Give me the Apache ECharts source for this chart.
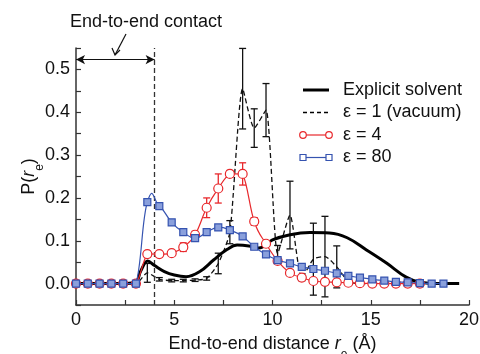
<!DOCTYPE html>
<html>
<head>
<meta charset="utf-8">
<script src="https://cdn.jsdelivr.net/npm/echarts@6/dist/echarts.min.js"></script>
<style>
html, body { margin: 0; padding: 0; background: #fff; }
#chart { width: 480px; height: 354px; }
</style>
</head>
<body>
<div id="chart"></div>
<script>
// sampled distances (shared by the three sampled curves)
const rGrid = [0, 0.6, 1.2, 1.8, 2.4, 3.05, 3.63, 4.24, 4.87, 5.46, 6.06, 6.65, 7.24, 7.83, 8.48, 9.07, 9.67, 10.26, 10.89, 11.49, 12.08, 12.67, 13.27, 13.86, 14.45, 15.08, 15.69, 16.28, 16.88, 17.5, 18.1, 18.7];

const eps80 = [0, 0, 0, 0, 0, 0, 0.19, 0.181, 0.143, 0.12, 0.106, 0.12, 0.131, 0.125, 0.11, 0.086, 0.068, 0.055, 0.047, 0.039, 0.034, 0.03, 0.024, 0.018, 0.014, 0.01, 0.007, 0.004, 0.003, 0.001, 0, 0];

const eps4 = [0, 0, 0, 0, 0, 0, 0.069, 0.069, 0.071, 0.085, 0.114, 0.177, 0.222, 0.256, 0.256, 0.145, 0.093, 0.053, 0.025, 0.014, 0.006, 0.004, 0.003, 0.002, 0.001, 0, 0, 0, 0, 0];
const eps4Err = [0, 0, 0, 0, 0, 0, 0.006, 0.004, 0.004, 0.01, 0.008, 0.023, 0.034, 0.008, 0.026, 0.009, 0.006, 0.004, 0.003, 0.002, 0, 0, 0, 0, 0, 0, 0, 0, 0, 0];

const vacuum = [0, 0, 0, 0, 0, 0, 0.025, 0.01, 0.007, 0.007, 0.008, 0.012, 0.047, 0.12, 0.455, 0.363, 0.405, 0.07, 0.16, 0.012, 0.057, 0.063, 0.039, 0.005, 0, 0];
const vacuumErr = [0, 0, 0, 0, 0, 0, 0.022, 0.004, 0.003, 0.003, 0.003, 0.004, 0.024, 0.027, 0.094, 0.045, 0.062, 0.019, 0.079, 0.005, 0.084, 0.094, 0.049, 0, 0, 0];

// explicit solvent
const explicitR = [0, 1, 2, 3, 3.3, 3.65, 4.0, 4.5, 5.0, 5.6, 6.3, 7.0, 7.7, 8.2, 8.8, 9.3, 10.0, 10.9, 11.9, 12.9, 13.8, 14.8, 15.8, 16.8, 17.5, 18.5, 19.5];
const explicitP = [0, 0, 0, 0.002, 0.03, 0.053, 0.042, 0.028, 0.02, 0.016, 0.028, 0.055, 0.08, 0.09, 0.088, 0.083, 0.102, 0.114, 0.119, 0.118, 0.107, 0.078, 0.048, 0.015, 0.003, 0, 0];

const contactR = 4;
const legendNames = ['Explicit solvent', 'ε = 1 (vacuum)', 'ε = 4', 'ε = 80'];

const RED = '#e8282c';
const BLUE = '#3553b0';
const FONT = 'Liberation Sans, Arial, sans-serif';

const pairs = (xs, ys) => ys.map((y, i) => [xs[i], y]);
const errRows = (xs, ys, es) => ys.map((y, i) => [xs[i], y - es[i], y + es[i]]).filter((d) => d[2] - d[1] > 0.0005);

function errorBars(color) {
    return function (params, api) {
        const lo = api.coord([api.value(0), api.value(1)]);
        const hi = api.coord([api.value(0), api.value(2)]);
        const w = 3.5;
        const style = { stroke: color, lineWidth: 1.3 };
        return {
            type: 'group',
            children: [
                { type: 'line', shape: { x1: lo[0], y1: lo[1], x2: hi[0], y2: hi[1] }, style },
                { type: 'line', shape: { x1: lo[0] - w, y1: lo[1], x2: lo[0] + w, y2: lo[1] }, style },
                { type: 'line', shape: { x1: hi[0] - w, y1: hi[1], x2: hi[0] + w, y2: hi[1] }, style }
            ]
        };
    };
}

// cardinal spline between neighbouring points (echarts' own smoothing clamps the peaks)
function splineSegments(color, width, tension) {
    return function (params, api) {
        const i = params.dataIndexInside;
        const n = params.dataInsideLength;
        if (i >= n - 1) return;
        const pt = (k) => api.coord([api.value(0, k), api.value(1, k)]);
        const p1 = pt(i), p2 = pt(i + 1);
        const p0 = i > 0 ? pt(i - 1) : p1;
        const p3 = i + 2 < n ? pt(i + 2) : p2;
        const style = { stroke: color, lineWidth: width, fill: null };
        if (Math.abs(p1[1] - p2[1]) < 0.5) {
            return { type: 'line', shape: { x1: p1[0], y1: p1[1], x2: p2[0], y2: p2[1] }, style };
        }
        return {
            type: 'bezierCurve',
            shape: {
                x1: p1[0], y1: p1[1], x2: p2[0], y2: p2[1],
                cpx1: p1[0] + (p2[0] - p0[0]) * tension, cpy1: p1[1] + (p2[1] - p0[1]) * tension,
                cpx2: p2[0] - (p3[0] - p1[0]) * tension, cpy2: p2[1] - (p3[1] - p1[1]) * tension
            },
            style
        };
    };
}

const chart = echarts.init(document.getElementById('chart'));

// legend drawn by hand so the samples look like o---o
const legendX = 303, legendY = 90, legendStep = 22.5;
const legendGraphics = [];
legendNames.forEach((name, i) => {
    const y = legendY + i * legendStep;
    let lineStyle = { stroke: '#000', lineWidth: 3 };
    if (i === 1) lineStyle = { stroke: '#000', lineWidth: 1.4, lineDash: [4, 3] };
    if (i === 2) lineStyle = { stroke: RED, lineWidth: 1.2 };
    if (i === 3) lineStyle = { stroke: BLUE, lineWidth: 1.2 };
    legendGraphics.push({ type: 'line', shape: { x1: legendX, y1: y, x2: legendX + 26, y2: y }, style: lineStyle });
    if (i === 2) {
        [legendX, legendX + 26].forEach((cx) => legendGraphics.push({ type: 'circle', shape: { cx, cy: y, r: 3.3 }, style: { fill: '#fff', stroke: RED, lineWidth: 1.2 } }));
    }
    if (i === 3) {
        [legendX, legendX + 26].forEach((cx) => legendGraphics.push({ type: 'rect', shape: { x: cx - 3, y: y - 3, width: 6, height: 6 }, style: { fill: '#fff', stroke: BLUE, lineWidth: 1.2 } }));
    }
    legendGraphics.push({ type: 'text', x: legendX + 40, y, style: { text: name, font: '18px ' + FONT, fill: '#111', verticalAlign: 'middle' } });
});

const nameRich = {
    i: { fontSize: 18, fontStyle: 'italic', fontFamily: FONT, color: '#111' },
    s: { fontSize: 12, fontFamily: FONT, color: '#111', verticalAlign: 'bottom', padding: [0, 0, -8, 0] }
};

const option = {
    animation: false,
    grid: { left: 76, right: 11, top: 48, bottom: 49, containLabel: false, outerBoundsMode: 'none' },
    xAxis: {
        type: 'value',
        min: 0,
        max: 20,
        interval: 2.5,
        name: 'End-to-end distance {i|r}{s|e} (Å)',
        nameLocation: 'middle',
        nameGap: 30,
        nameTextStyle: { fontSize: 18, fontFamily: FONT, color: '#111', rich: nameRich },
        axisLine: { onZero: false, lineStyle: { color: '#333', width: 1.5 } },
        axisTick: { inside: true, length: 5, lineStyle: { color: '#333', width: 1.2 } },
        axisLabel: {
            fontSize: 18, fontFamily: FONT, color: '#111', margin: 6,
            formatter: (v) => (v % 5 === 0 ? String(v) : '')
        },
        splitLine: { show: false }
    },
    yAxis: {
        type: 'value',
        min: -0.05,
        max: 0.55,
        interval: 0.05,
        name: 'P({i|r}{s|e})',
        nameLocation: 'middle',
        nameGap: 38,
        nameMoveOverlap: false,
        nameTextStyle: { fontSize: 18, fontFamily: FONT, color: '#111', rich: nameRich },
        axisLine: { show: true, lineStyle: { color: '#333', width: 1.5 } },
        axisTick: { show: true, inside: true, length: 5, lineStyle: { color: '#333', width: 1.2 } },
        axisLabel: {
            fontSize: 18, fontFamily: FONT, color: '#111', margin: 6,
            formatter: (v) => {
                const t = Math.round(v * 100);
                return (t >= 0 && t % 10 === 0) ? (t / 100).toFixed(1) : '';
            }
        },
        splitLine: { show: false }
    },
    graphic: [
        { type: 'text', x: 146, y: 22, style: { text: 'End-to-end contact', font: '18px ' + FONT, fill: '#111', align: 'center', verticalAlign: 'middle' } },
        { type: 'line', shape: { x1: 126, y1: 34, x2: 115, y2: 55 }, style: { stroke: '#111', lineWidth: 1.2 } },
        { type: 'polyline', shape: { points: [[112, 48], [115, 55], [120, 50]] }, style: { stroke: '#111', lineWidth: 1.2, fill: null } },
        ...legendGraphics
    ],
    series: [
        {
            name: legendNames[0],
            type: 'line',
            data: pairs(explicitR, explicitP),
            showSymbol: false,
            smooth: 0.4,
            lineStyle: { color: '#000', width: 3 },
            z: 5,
            markLine: {
                silent: true,
                symbol: 'none',
                label: { show: false },
                lineStyle: { color: '#333', width: 1.3, type: [5, 3] },
                data: [{ xAxis: contactR }]
            }
        },
        {
            name: legendNames[1],
            type: 'line',
            data: pairs(rGrid, vacuum),
            showSymbol: false,
            smooth: 0.2,
            lineStyle: { color: '#111', width: 1.3, type: [5, 3] },
            z: 3,
            markLine: {
                silent: true,
                symbol: ['arrow', 'arrow'],
                symbolSize: [7, 9],
                label: { show: false },
                lineStyle: { color: '#111', width: 1.2, type: 'solid' },
                data: [[{ coord: [0, 0.523] }, { coord: [contactR, 0.523] }]]
            }
        },
        {
            type: 'custom',
            data: errRows(rGrid, vacuum, vacuumErr),
            renderItem: errorBars('#111'),
            z: 4
        },
        {
            type: 'custom',
            data: pairs(rGrid, eps4),
            renderItem: splineSegments(RED, 1.2, 0.2),
            z: 6
        },
        {
            type: 'custom',
            data: errRows(rGrid, eps4, eps4Err),
            renderItem: errorBars(RED),
            z: 6
        },
        {
            name: legendNames[2],
            type: 'scatter',
            data: pairs(rGrid, eps4),
            symbol: 'circle',
            symbolSize: 9,
            itemStyle: { color: '#fff', borderColor: RED, borderWidth: 1.2, opacity: 1 },
            z: 7
        },
        {
            type: 'custom',
            data: pairs(rGrid, eps80),
            renderItem: splineSegments(BLUE, 1.2, 0.25),
            z: 8
        },
        {
            name: legendNames[3],
            type: 'scatter',
            data: pairs(rGrid, eps80),
            symbol: 'rect',
            symbolSize: 7,
            itemStyle: { color: '#8aa0dc', borderColor: BLUE, borderWidth: 1.2, opacity: 1 },
            z: 9
        }
    ]
};

chart.setOption(option);
</script>
</body>
</html>
